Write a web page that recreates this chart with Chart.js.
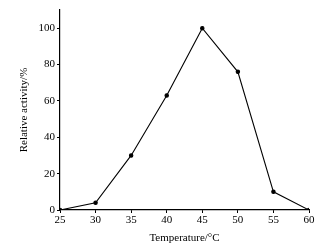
<!DOCTYPE html>
<html>
<head>
<meta charset="utf-8">
<script src="https://cdn.jsdelivr.net/npm/chart.js@4/dist/chart.umd.min.js"></script>
<style>
  html, body { margin: 0; padding: 0; background: #fff; }
  canvas { display: block; }
</style>
</head>
<body>
<canvas id="activity_chart" width="333" height="249"></canvas>
<script>
// temperature profile
const temperature_values = [25, 30, 35, 40, 45, 50, 55, 60]
const activity_values    = [0, 4, 30, 63, 100, 76, 10, 0]
const x_tick_values      = [25, 30, 35, 40, 45, 50, 55, 60]
const y_tick_values      = [0, 20, 40, 60, 80, 100]

const points = temperature_values.map((t, i) => ({ x: t, y: activity_values[i] }))

const serif = 'Liberation Serif'

const ctx = document.getElementById('activity_chart').getContext('2d')

new Chart(ctx, {
  type: 'line',
  data: {
    datasets: [{
      data: points,
      borderColor: '#000',
      backgroundColor: '#000',
      borderWidth: 1.1,
      pointRadius: 1.7,
      pointHoverRadius: 1.7,
      tension: 0
    }]
  },
  options: {
    responsive: false,
    animation: false,
    layout: { padding: { top: 10, right: 24, left: 18, bottom: 0 } },
    plugins: { legend: { display: false }, tooltip: { enabled: false } },
    scales: {
      x: {
        type: 'linear',
        min: 25,
        max: 60,
        afterBuildTicks: scale => { scale.ticks = x_tick_values.map(v => ({ value: v })) },
        afterFit: scale => { scale.height = 39 },
        grid: { display: true, drawOnChartArea: false, tickLength: 3, color: '#000' },
        border: { color: '#000', width: 1.2 },
        ticks: { color: '#000', font: { family: serif, size: 11 }, padding: 1, maxRotation: 0 },
        title: { display: true, text: 'Temperature/°C', color: '#000', font: { family: serif, size: 11 }, padding: { top: 7 } }
      },
      y: {
        min: 0,
        max: 110,
        afterBuildTicks: scale => { scale.ticks = y_tick_values.map(v => ({ value: v })) },
        afterFit: scale => { scale.width = 42 },
        grid: { display: true, drawOnChartArea: false, tickLength: 3, color: '#000' },
        border: { color: '#000', width: 1.2 },
        ticks: { color: '#000', font: { family: serif, size: 11 }, padding: 2 },
        title: { display: true, text: 'Relative activity/%', color: '#000', font: { family: serif, size: 11 }, padding: { top: 0, bottom: 0 } }
      }
    }
  }
})
</script>
</body>
</html>
